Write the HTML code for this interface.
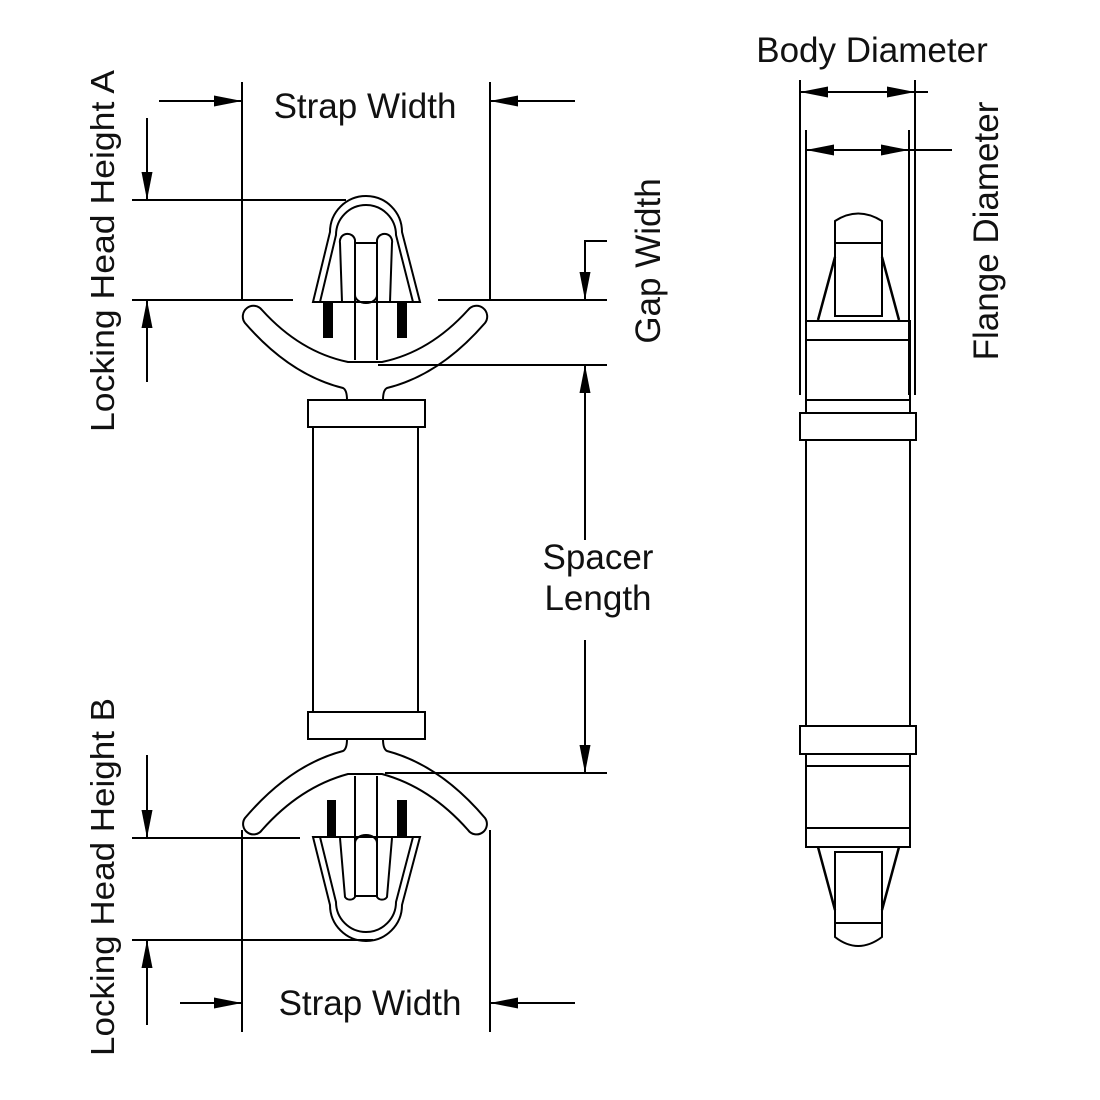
<!DOCTYPE html>
<html><head><meta charset="utf-8"><style>
html,body{margin:0;padding:0;background:#fff}
svg{display:block}
text{font-family:"Liberation Sans",sans-serif;fill:#111}
</style></head><body>
<svg width="1100" height="1100" viewBox="0 0 1100 1100" xmlns="http://www.w3.org/2000/svg">
<defs>
<marker id="a" markerUnits="userSpaceOnUse" markerWidth="30" markerHeight="14" refX="28" refY="7" orient="auto">
<path d="M0,1.5 L28,7 L0,12.5 Z" fill="#000"/>
</marker>
</defs>
<g stroke="#000" stroke-width="2" fill="none">
<line x1="242" y1="82" x2="242" y2="300"/>
<line x1="490" y1="82" x2="490" y2="300"/>
<line x1="159" y1="101" x2="242" y2="101" marker-end="url(#a)"/>
<line x1="575" y1="101" x2="490" y2="101" marker-end="url(#a)"/>
<line x1="132" y1="200" x2="346" y2="200"/>
<line x1="132" y1="300" x2="293" y2="300"/>
<line x1="438" y1="300" x2="607" y2="300"/>
<line x1="147" y1="118" x2="147" y2="200" marker-end="url(#a)"/>
<line x1="147" y1="382" x2="147" y2="300" marker-end="url(#a)"/>
<polyline points="607,241 585,241 585,300" />
<line x1="585" y1="250" x2="585" y2="300" marker-end="url(#a)"/>
<line x1="378" y1="365" x2="607" y2="365"/>
<line x1="385" y1="773" x2="607" y2="773"/>
<line x1="585" y1="540" x2="585" y2="365" marker-end="url(#a)"/>
<line x1="585" y1="640" x2="585" y2="773" marker-end="url(#a)"/>

<line x1="132" y1="838" x2="300" y2="838"/>
<line x1="132" y1="940" x2="373" y2="940"/>
<line x1="147" y1="755" x2="147" y2="838" marker-end="url(#a)"/>
<line x1="147" y1="1025" x2="147" y2="940" marker-end="url(#a)"/>
<line x1="242" y1="830" x2="242" y2="1032"/>
<line x1="490" y1="830" x2="490" y2="1032"/>
<line x1="180" y1="1003" x2="242" y2="1003" marker-end="url(#a)"/>
<line x1="575" y1="1003" x2="490" y2="1003" marker-end="url(#a)"/>

<!-- top head -->
<path d="M313,302 L330,232 A36,36 0 0 1 402,232 L420,302 Z"/>
<path d="M320,302 L336,235 A30,30 0 0 1 396,235 L413,302"/>
<path d="M342,302 L340,243 A6,6 0 0 1 355,240 L355,360"/>
<path d="M390,302 L392,243 A6,6 0 0 0 377,240 L377,360"/>
<line x1="355" y1="243" x2="377" y2="243"/>
<path d="M355,295 A11,8 0 0 0 377,295"/>
<rect x="323" y="302" width="10" height="36" fill="#000" stroke="none"/>
<rect x="397" y="302" width="10" height="36" fill="#000" stroke="none"/>
<path d="M347,400 Q347,390 343,388 Q290,375 245,323 A10,10 0 0 1 262,310 Q300,352 348,362 L382,362 Q430,352 468,310 A10,10 0 0 1 485,323 Q440,375 387,388 Q383,390 383,400"/>
<rect x="308" y="400" width="117" height="27"/>
<line x1="313" y1="427" x2="313" y2="712"/>
<line x1="418" y1="427" x2="418" y2="712"/>
<rect x="308" y="712" width="117" height="27"/>
<!-- arms bottom -->
<path d="M347,739 Q347,749 343,751 Q290,765 245,818 A10,10 0 0 0 262,830 Q300,787 348,774 L382,774 Q430,787 468,830 A10,10 0 0 0 485,818 Q440,765 387,751 Q383,749 383,739"/>
<rect x="327" y="800" width="9" height="38" fill="#000" stroke="none"/>
<rect x="397" y="800" width="10" height="38" fill="#000" stroke="none"/>
<path d="M313,837 L330,905 A36,36 0 0 0 402,905 L420,837 Z"/>
<path d="M320,837 L336,902 A30,30 0 0 0 396,902 L413,837"/>
<path d="M340,838 L345,897 A6,6 0 0 0 355,897 L355,776"/>
<path d="M392,838 L387,897 A6,6 0 0 1 377,897 L377,776"/>
<line x1="355" y1="896" x2="377" y2="896"/>
<path d="M355,843 A11,8 0 0 1 377,843"/>

<!-- right view dims -->
<line x1="800" y1="80" x2="800" y2="395"/>
<line x1="915" y1="80" x2="915" y2="395"/>
<line x1="806" y1="130" x2="806" y2="395"/>
<line x1="909" y1="130" x2="909" y2="395"/>
<line x1="857" y1="92" x2="800" y2="92" marker-end="url(#a)"/>
<line x1="857" y1="92" x2="915" y2="92" marker-end="url(#a)"/>
<line x1="915" y1="92" x2="928" y2="92"/>
<line x1="857" y1="150" x2="806" y2="150" marker-end="url(#a)"/>
<line x1="857" y1="150" x2="909" y2="150" marker-end="url(#a)"/>
<line x1="909" y1="150" x2="952" y2="150"/>

<path d="M835,316 L835,221 Q858,206 882,221 L882,316 Z"/>
<line x1="835" y1="243" x2="882" y2="243"/>
<path d="M835,257 L818,320 M882,257 L899,320" stroke-width="2.5"/>
<rect x="806" y="321" width="104" height="19"/>
<rect x="806" y="340" width="104" height="73"/>
<line x1="806" y1="400" x2="910" y2="400"/>
<rect x="800" y="413" width="116" height="27"/>
<line x1="806" y1="440" x2="806" y2="726"/>
<line x1="910" y1="440" x2="910" y2="726"/>
<rect x="800" y="726" width="116" height="28"/>
<rect x="806" y="754" width="104" height="93"/>
<line x1="806" y1="766" x2="910" y2="766"/>
<line x1="806" y1="828" x2="910" y2="828"/>
<path d="M835,852 L835,937 Q858,955 882,937 L882,852 Z"/>
<line x1="835" y1="923" x2="882" y2="923"/>
<path d="M818,847 L835,910 M899,847 L882,910" stroke-width="2.5"/>
</g>
<text x="365" y="118" font-size="35" text-anchor="middle">Strap Width</text>
<text x="370" y="1015" font-size="35" text-anchor="middle">Strap Width</text>
<text x="872" y="62" font-size="35" text-anchor="middle">Body Diameter</text>
<text x="598" y="569" font-size="35" text-anchor="middle">Spacer</text>
<text x="598" y="610" font-size="35" text-anchor="middle">Length</text>
<text transform="translate(660,261) rotate(-90)" font-size="35" text-anchor="middle">Gap Width</text>
<text transform="translate(998,231) rotate(-90)" font-size="35" text-anchor="middle">Flange Diameter</text>
<text transform="translate(114,251) rotate(-90)" font-size="33" text-anchor="middle" textLength="362" lengthAdjust="spacingAndGlyphs">Locking Head Height A</text>
<text transform="translate(114,877) rotate(-90)" font-size="33" text-anchor="middle" textLength="358" lengthAdjust="spacingAndGlyphs">Locking Head Height B</text>
</svg>
</body></html>
